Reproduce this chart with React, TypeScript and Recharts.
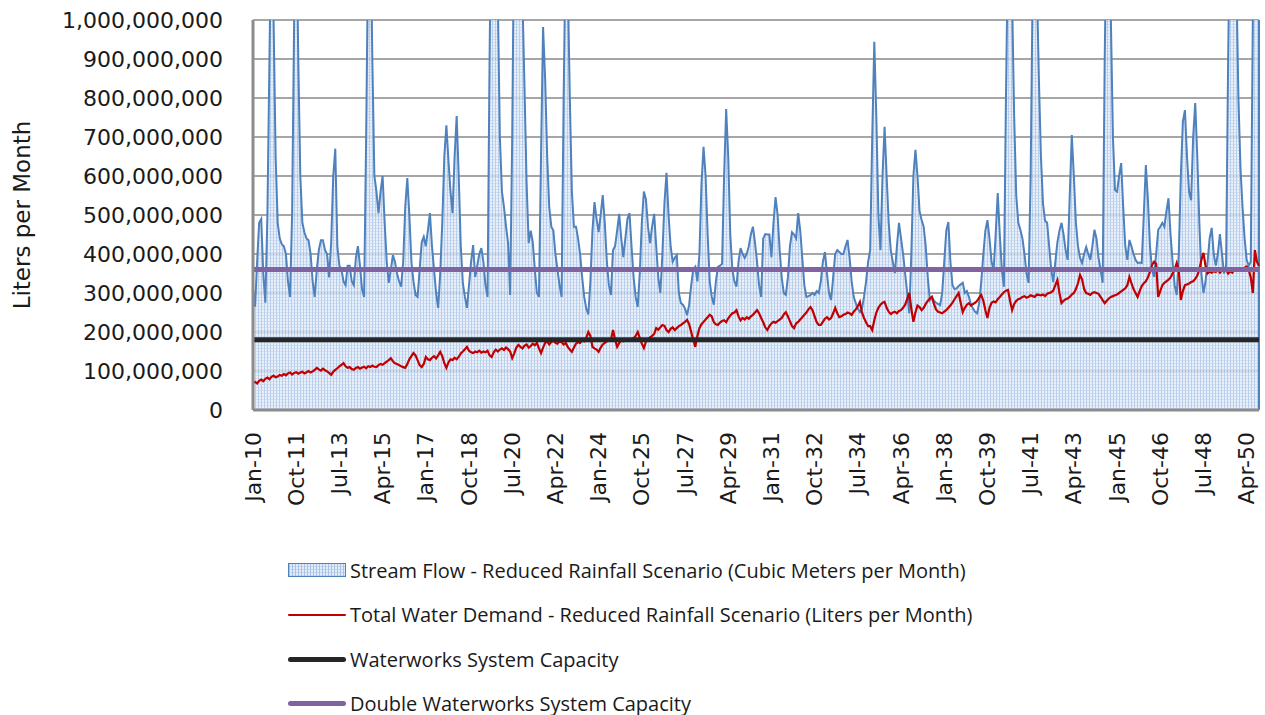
import React from "react";
import { Area, CartesianGrid, ComposedChart, Line, ReferenceLine, XAxis, YAxis } from "recharts";

const MONTH_NAMES = ["Jan", "Feb", "Mar", "Apr", "May", "Jun", "Jul", "Aug", "Sep", "Oct", "Nov", "Dec"];
const START_YEAR = 2010;
const MONTH_COUNT = 490;

// month labels Jan-10 .. Oct-50
const MONTHS = Array.from({ length: MONTH_COUNT }, (_, i) => {
  const yy = (START_YEAR + Math.floor(i / 12)) % 100;
  return `${MONTH_NAMES[i % 12]}-${String(yy).padStart(2, "0")}`;
});

// stream flow, millions per month (peaks above the 1e9 axis are clipped)
const STREAM_FLOW_M = [
  310, 265, 380, 480, 490, 350, 275, 500, 900, 1300, 1000, 650,
  480, 440, 425, 420, 400, 330, 290, 500, 1000, 1300, 900, 600,
  480, 455, 440, 435, 400, 330, 290, 360, 410, 435, 435, 410,
  400, 340, 430, 600, 670, 420, 370, 360, 330, 320, 370, 370,
  330, 320, 390, 420, 370, 310, 290, 700, 1200, 1300, 900, 600,
  560, 505, 560, 600, 480, 380, 326, 360, 397, 380, 350, 330,
  316, 380, 520, 595, 500, 380, 330, 295, 290, 360, 430, 444,
  420, 460, 505, 420, 360, 300, 262, 350, 480, 650, 730, 640,
  560, 505, 650, 754, 600, 420, 326, 290, 262, 320, 380, 423,
  341, 370, 400, 415, 380, 320, 290, 900, 1400, 1400, 1300, 1050,
  700, 560, 520, 470, 428, 295, 700, 1300, 1400, 1300, 1200, 1050,
  820, 580, 428, 460, 430, 360, 300, 290, 650, 982, 850, 650,
  520, 470, 460, 400, 360, 320, 290, 800, 1200, 1100, 800, 560,
  470, 470, 440, 400, 340, 290, 260, 245, 330, 460, 533, 490,
  456, 500, 551, 480, 380, 320, 295, 410, 420, 460, 503, 440,
  392, 440, 490, 505, 420, 340, 290, 264, 350, 480, 560, 540,
  470, 428, 470, 503, 420, 340, 300, 400, 530, 608, 500, 420,
  380, 390, 397, 300, 274, 270, 260, 243, 270, 320, 360, 367,
  330, 400, 580, 675, 600, 450, 330, 290, 270, 330, 367, 370,
  375, 600, 772, 650, 450, 360, 330, 316, 380, 415, 400, 390,
  400, 420, 450, 470, 430, 380, 320, 290, 440, 451, 450, 450,
  392, 480, 546, 500, 410, 340, 300, 295, 340, 420, 456, 450,
  440, 505, 460, 390, 320, 290, 292, 295, 300, 295, 305, 300,
  330, 380, 405, 350, 300, 282, 340, 400, 410, 405, 400, 400,
  420, 436, 390, 330, 290, 274, 260, 251, 260, 290, 330, 380,
  410, 700, 944, 750, 500, 410, 600, 726, 600, 480, 410, 380,
  351, 420, 480, 440, 400, 350, 300, 248, 400, 600, 667, 600,
  510, 487, 470, 420, 340, 282, 290, 280, 275, 272, 269, 300,
  380, 460, 482, 380, 320, 310, 312, 318, 322, 326, 300, 305,
  290, 270, 260, 252, 248, 275, 330, 400, 460, 487, 440, 380,
  360, 450, 556, 450, 360, 316, 800, 1200, 1300, 1050, 750, 550,
  480, 462, 440, 400, 350, 326, 600, 1100, 1300, 1100, 850, 650,
  530, 485, 480, 420, 360, 328, 380, 430, 460, 480, 450, 410,
  385, 550, 705, 600, 480, 420, 390, 377, 400, 418, 400, 385,
  420, 462, 440, 390, 360, 326, 900, 1300, 1300, 1000, 700, 564,
  560, 600, 633, 520, 420, 385, 436, 420, 400, 385, 377, 378,
  377, 500, 628, 540, 420, 360, 341, 400, 462, 470, 480, 470,
  510, 543, 450, 380, 320, 295, 400, 600, 740, 769, 650, 560,
  538, 700, 787, 650, 480, 350, 300, 330, 380, 440, 467, 400,
  370, 400, 451, 400, 350, 370, 900, 1300, 1400, 1300, 1100, 800,
  620, 520, 440, 385, 370, 380, 1000, 1300, 1300, 1300,
];

// total water demand, millions of liters per month
const DEMAND_M = [
  70, 72, 68, 75, 78, 74, 80, 83, 79, 85, 88, 84,
  86, 90, 88, 92, 89, 94, 96, 91, 95, 97, 93, 96,
  98, 94, 97, 100, 96, 99, 103, 108, 104, 101, 106, 102,
  99, 95, 90, 98, 103, 107, 112, 116, 120, 112, 108, 110,
  105, 103, 108, 110, 106, 109, 111, 107, 112, 110, 114, 111,
  110, 115, 118, 116, 120, 124, 128, 133, 125, 120, 118, 115,
  112, 110, 108, 118, 130, 138, 146, 140, 128, 115, 110, 118,
  136, 130, 128, 134, 138, 132, 140, 149, 138, 120, 108, 122,
  130, 128, 134, 130, 136, 145, 150, 156, 162, 152, 148, 146,
  150, 148, 152, 147, 150, 148, 152, 140, 136, 148, 155, 150,
  155, 158, 154, 160, 156, 150, 133, 145, 160, 167, 162, 158,
  165, 168, 160, 164, 170, 166, 172, 158, 146, 160, 172, 176,
  168, 174, 178, 172, 170, 176, 174, 168, 172, 162, 155, 149,
  160, 170, 174, 172, 178, 176, 185, 200, 190, 162, 158, 155,
  149, 160, 168, 172, 176, 178, 180, 205, 180, 162, 172, 178,
  176, 180, 178, 182, 180, 184, 190, 200, 185, 170, 159, 175,
  182, 186, 190, 195, 210, 206, 212, 218, 216, 205, 200, 208,
  212, 205, 210, 215, 218, 222, 226, 231, 220, 200, 180, 162,
  190, 210, 220, 226, 232, 238, 244, 240, 225, 220, 218, 224,
  228, 230, 225, 235, 242, 248, 250, 256, 240, 230, 236, 232,
  238, 234, 240, 244, 250, 256, 248, 236, 225, 212, 205, 215,
  222, 226, 224, 228, 232, 236, 245, 251, 240, 228, 215, 210,
  222, 226, 232, 238, 244, 250, 258, 264, 255, 240, 225, 218,
  218, 226, 234, 238, 232, 236, 248, 262, 248, 238, 240, 244,
  246, 250, 248, 244, 252, 258, 266, 277, 250, 236, 225, 215,
  215, 205, 230, 250, 262, 270, 275, 277, 262, 252, 246, 250,
  252, 248, 254, 256, 262, 270, 285, 300, 260, 226, 250, 268,
  264, 256, 262, 272, 280, 286, 290, 272, 258, 252, 250, 248,
  252, 256, 262, 268, 275, 284, 292, 300, 275, 251, 262, 270,
  274, 268, 272, 275, 280, 288, 295, 280, 256, 236, 262, 275,
  278, 276, 284, 290, 296, 302, 306, 308, 280, 256, 272, 280,
  284, 286, 290, 292, 288, 290, 294, 292, 290, 296, 295, 294,
  296, 292, 298, 300, 302, 306, 320, 333, 300, 274, 280, 284,
  286, 290, 296, 300, 310, 325, 346, 335, 310, 300, 298, 295,
  300, 302, 300, 298, 290, 282, 274, 280, 286, 290, 292, 294,
  296, 300, 304, 308, 312, 320, 341, 325, 310, 300, 290, 305,
  318, 325, 330, 340, 355, 372, 380, 375, 290, 305, 320, 326,
  330, 334, 340, 350, 360, 377, 360, 282, 305, 320, 322, 324,
  328, 330, 336, 345, 360, 385, 403, 370, 350, 355, 352, 356,
  354, 360, 352, 358, 362, 360, 350, 356, 352, 360, 358, 362,
  358, 362, 365, 368, 360, 340, 300, 410, 380, 370,
];

const CAPACITY = 180000000;
const DOUBLE_CAPACITY = 360000000;

const Y_TICKS = [0, 100000000, 200000000, 300000000, 400000000, 500000000, 600000000, 700000000, 800000000, 900000000, 1000000000];

const LEGEND_ITEMS = [
  { key: "stream", label: "Stream Flow - Reduced Rainfall Scenario (Cubic Meters per Month)" },
  { key: "demand", label: "Total Water Demand - Reduced Rainfall Scenario (Liters per Month)" },
  { key: "capacity", label: "Waterworks System Capacity" },
  { key: "double", label: "Double Waterworks System Capacity" },
];

const BLUE = "#4f81bd";
const RED = "#c00000";
const BLACK = "#262626";
const PURPLE = "#8064a2";
const TICK_FONT = "DejaVu Sans, Verdana, sans-serif";

const rows = MONTHS.map((month, i) => ({
  month,
  stream: STREAM_FLOW_M[i] * 1000000,
  demand: DEMAND_M[i] * 1000000,
  capacity: CAPACITY,
  doubleCapacity: DOUBLE_CAPACITY,
}));

function XTick({ x, y, payload }: any) {
  return (
    <text
      x={x}
      y={y}
      transform={`rotate(-90 ${x} ${y})`}
      textAnchor="end"
      dominantBaseline="central"
      fontFamily={TICK_FONT}
      fontSize={22}
      fill="#1a1a1a"
    >
      {payload.value}
    </text>
  );
}

function YTitle() {
  return (
    <text
      x={22}
      y={215}
      transform="rotate(-90 22 215)"
      textAnchor="middle"
      dominantBaseline="central"
      fontFamily={TICK_FONT}
      fontSize={23}
      fill="#1a1a1a"
    >
      Liters per Month
    </text>
  );
}

function LegendIcon({ kind }: { kind: string }) {
  if (kind === "stream") {
    return (
      <div
        style={{
          width: 56,
          height: 12,
          border: `1px solid ${BLUE}`,
          background:
            "repeating-linear-gradient(90deg, #a9c3e6 0 1px, transparent 1px 3px), repeating-linear-gradient(0deg, #c3d6ef 0 1px, #e3ecf8 1px 3px)",
        }}
      />
    );
  }
  const color = kind === "demand" ? RED : kind === "capacity" ? BLACK : PURPLE;
  const h = kind === "demand" ? 2 : 5;
  return <div style={{ width: 58, height: h, background: color, borderRadius: h / 2 }} />;
}

export default function App() {
  return (
    <div style={{ position: "absolute", left: 0, top: 0, width: 1265, height: 715, background: "#fff" }}>
      <ComposedChart width={1265} height={715} data={rows} margin={{ top: 20, right: 6, left: 0, bottom: 205 }}>
        <defs>
          <pattern id="streamHatch" width={3} height={3} patternUnits="userSpaceOnUse">
            <rect width={3} height={3} fill="#e3ecf8" />
            <rect width={3} height={1} fill="#c3d6ef" />
            <rect width={1} height={3} fill="#a9c3e6" />
          </pattern>
        </defs>
        <CartesianGrid vertical={false} stroke="#a6a6a6" strokeWidth={2} />
        <XAxis
          dataKey="month"
          scale="point"
          padding={{ left: 0, right: 0 }}
          interval={20}
          height={100}
          tickLine={false}
          tickSize={6}
          tickMargin={16}
          axisLine={{ stroke: "#8c8c8c", strokeWidth: 3 }}
          tick={<XTick />}
        />
        <YAxis
          type="number"
          domain={[0, 1000000000]}
          ticks={Y_TICKS}
          allowDataOverflow
          width={253}
          tickLine={false}
          tickSize={6}
          tickMargin={24}
          axisLine={{ stroke: "#8c8c8c", strokeWidth: 3 }}
          tick={{ fontFamily: TICK_FONT, fontSize: 22, fill: "#1a1a1a" }}
          tickFormatter={(v: number) => v.toLocaleString("en-US")}
          label={<YTitle />}
        />
        <Area
          type="linear"
          dataKey="stream"
          stroke={BLUE}
          strokeWidth={2}
          fill="url(#streamHatch)"
          fillOpacity={0.8}
          dot={false}
          activeDot={false}
          isAnimationActive={false}
        />
        <ReferenceLine x={MONTHS[MONTHS.length - 1]} stroke={BLUE} strokeWidth={2} />
        <Line type="linear" dataKey="demand" stroke={RED} strokeWidth={2.2} dot={false} activeDot={false} isAnimationActive={false} />
        <Line type="linear" dataKey="capacity" stroke={BLACK} strokeWidth={5} dot={false} activeDot={false} isAnimationActive={false} />
        <Line type="linear" dataKey="doubleCapacity" stroke={PURPLE} strokeWidth={5} dot={false} activeDot={false} isAnimationActive={false} />
      </ComposedChart>
      <div style={{ position: "absolute", left: 288, top: 548, fontFamily: "Open Sans, sans-serif", fontSize: 20, color: "#1a1a1a" }}>
        {LEGEND_ITEMS.map((item) => (
          <div key={item.key} style={{ display: "flex", alignItems: "center", height: 44.5 }}>
            <div style={{ width: 58, display: "flex", justifyContent: "center" }}>
              <LegendIcon kind={item.key} />
            </div>
            <span style={{ marginLeft: 4, whiteSpace: "nowrap" }}>{item.label}</span>
          </div>
        ))}
      </div>
    </div>
  );
}
